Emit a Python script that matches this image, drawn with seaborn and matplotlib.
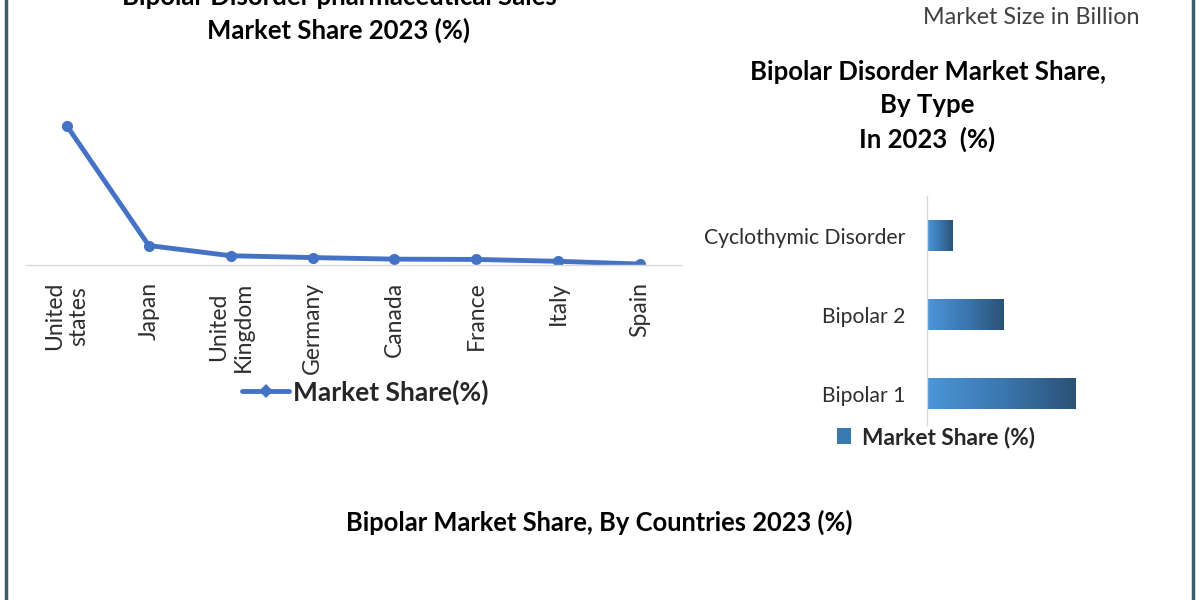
import numpy as np
import pandas as pd
import matplotlib
matplotlib.use("Agg")
import matplotlib.pyplot as plt
import seaborn as sns
from matplotlib.lines import Line2D
from matplotlib.patches import Patch
from matplotlib.colors import LinearSegmentedColormap

# ---- data ----
countries = ["United\nstates", "Japan", "United\nKingdom", "Germany", "Canada", "France", "Italy", "Spain"]
country_share = [45, 6.3, 3.0, 2.4, 1.9, 1.8, 1.2, 0.3]
types = ["Cyclothymic Disorder", "Bipolar 2", "Bipolar 1"]
type_share = [10, 30, 58]

line_title = "Bipolar Disorder pharmaceutical Sales\nMarket Share 2023 (%)"
type_title = "Bipolar Disorder Market Share,\nBy Type\nIn 2023  (%)"
bottom_title = "Bipolar Market Share, By Countries 2023 (%)"
corner_text = "Market Size in Billion"
series_name_line = "Market Share(%)"
series_name_bar = "Market Share (%)"

sns.set_theme(style="white")
plt.rcParams["font.family"] = ["Lato", "DejaVu Sans"]

LINE_BLUE = "#4472C4"
TXT = "#2e2e2e"

fig = plt.figure(figsize=(12, 6), dpi=100)
fig.patch.set_facecolor("white")

# ---- line chart ----
ax1 = fig.add_axes([26 / 1200, (600 - 265) / 600, (681 - 26) / 1200, 165 / 600])
df1 = pd.DataFrame({"country": countries, "share": country_share})
sns.lineplot(data=df1, x="country", y="share", ax=ax1, color=LINE_BLUE,
             linewidth=3.5, marker="o", markersize=8, markeredgewidth=0, sort=False)
ax1.set_ylim(0, 53.4)
ax1.set_xlim(-0.5, len(countries) - 0.5)
for s in ["top", "right", "left"]:
    ax1.spines[s].set_visible(False)
ax1.spines["bottom"].set_color("#d9d9d9")
ax1.spines["bottom"].set_linewidth(1)
ax1.set_yticks([])
ax1.set_xlabel("")
ax1.set_ylabel("")
ax1.tick_params(axis="x", length=0, pad=12, labelsize=16.5, labelcolor=TXT)
for lab in ax1.get_xticklabels():
    lab.set_rotation(90)
    lab.set_va("top")
    lab.set_ha("center")
ax1.patch.set_alpha(0)
h1 = Line2D([0], [0], color=LINE_BLUE, lw=3.5, marker="D", markersize=7, markeredgewidth=0)
fig.legend([h1], [series_name_line], loc="center", bbox_to_anchor=(365 / 1200, 1 - 392 / 600),
           frameon=False, prop={"weight": "bold", "size": 19}, handlelength=1.8,
           handletextpad=0.12)

fig.text(339 / 1200, 1 - 14 / 600, line_title, ha="center", va="center",
         fontsize=18.5, fontweight="bold", color="black", linespacing=1.38)

# ---- horizontal bar chart ----
ax2 = fig.add_axes([926.7 / 1200, (600 - 425.2) / 600, (1150 - 926.7) / 1200, 228.8 / 600])
df2 = pd.DataFrame({"type": types, "share": type_share})
sns.barplot(data=df2, y="type", x="share", ax=ax2, orient="h", width=0.39,
            color="#3a78b0", saturation=1)
xmax = (1150 - 926.7) / 2.557
cmap = LinearSegmentedColormap.from_list("grad", ["#4c96d8", "#3b77b0", "#2b5276"])
grad = np.linspace(0, 1, 256).reshape(1, -1)
for p in ax2.patches:
    x0, y0, w, h = p.get_x(), p.get_y(), p.get_width(), p.get_height()
    im = ax2.imshow(grad, extent=[x0, x0 + w, y0 + h, y0], cmap=cmap, aspect="auto",
                    zorder=p.get_zorder() + 0.1, interpolation="bicubic")
    im.set_clip_path(p)
ax2.set_xlim(0, xmax)
ax2.set_ylim(2.4, -0.5)
for s in ["top", "right", "bottom"]:
    ax2.spines[s].set_visible(False)
ax2.spines["left"].set_color("#d9d9d9")
ax2.spines["left"].set_linewidth(1)
ax2.set_xticks([])
ax2.set_xlabel("")
ax2.set_ylabel("")
ax2.tick_params(axis="y", length=0, pad=15, labelsize=15.2, labelcolor=TXT)
ax2.patch.set_alpha(0)
h2 = Patch(facecolor="#3a78b0", edgecolor="none")
fig.legend([h2], [series_name_bar], loc="center", bbox_to_anchor=(936 / 1200, 1 - 437 / 600),
           frameon=False, prop={"weight": "bold", "size": 16.3}, handlelength=0.6,
           handleheight=0.75, handletextpad=0.5)

fig.text(927.5 / 1200, 1 - 106 / 600, type_title, ha="center", va="center",
         fontsize=18.5, fontweight="bold", color="black", linespacing=1.44)
fig.text(1031 / 1200, 1 - 17 / 600, corner_text, ha="center", va="center",
         fontsize=16.8, color="#404040")
fig.text(599 / 1200, 1 - 522 / 600, bottom_title, ha="center", va="center",
         fontsize=18.4, fontweight="bold", color="black")

# ---- frame borders ----
for xpx in (6, 1193):
    fig.add_artist(Line2D([xpx / 1200, xpx / 1200], [0, 1], color="#3d5b6c", lw=2.5,
                          transform=fig.transFigure))

fig.savefig("out.png", dpi=100, facecolor="white")
